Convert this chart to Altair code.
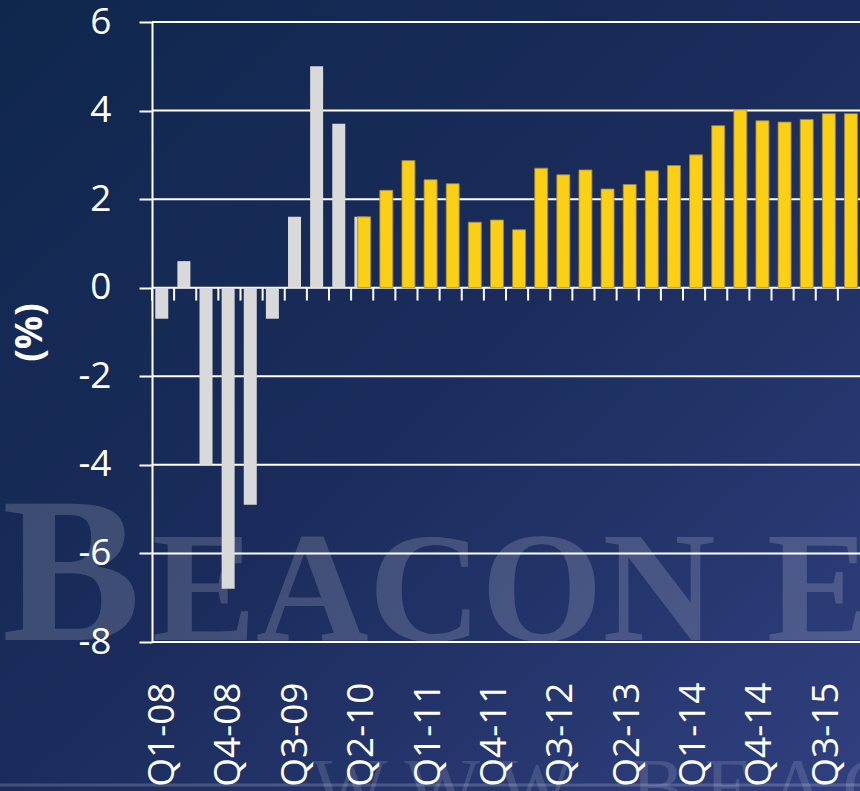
import altair as alt
import pandas as pd

# Quarterly growth, % (actuals followed by the forecast path)
quarters = [
    "Q1-08", "Q2-08", "Q3-08", "Q4-08",
    "Q1-09", "Q2-09", "Q3-09", "Q4-09",
    "Q1-10", "Q2-10", "Q3-10", "Q4-10",
    "Q1-11", "Q2-11", "Q3-11", "Q4-11",
    "Q1-12", "Q2-12", "Q3-12", "Q4-12",
    "Q1-13", "Q2-13", "Q3-13", "Q4-13",
    "Q1-14", "Q2-14", "Q3-14", "Q4-14",
    "Q1-15", "Q2-15", "Q3-15", "Q4-15",
]
actual_values = [-0.7, 0.6, -4.0, -6.8, -4.9, -0.7, 1.6, 5.0, 3.7, 1.6]
forecast_values = [
    1.6, 2.2, 2.87, 2.44, 2.35, 1.48, 1.53, 1.31,
    2.7, 2.55, 2.66, 2.23, 2.33, 2.64, 2.76, 3.0,
    3.66, 4.02, 3.77, 3.74, 3.8, 3.93, 3.93,
]
x_labels = ["Q1-08", "Q4-08", "Q3-09", "Q2-10", "Q1-11", "Q4-11",
            "Q3-12", "Q2-13", "Q1-14", "Q4-14", "Q3-15"]
y_ticks = [-8, -6, -4, -2, 0, 2, 4, 6]

n_act = len(actual_values)
actual = pd.DataFrame({"quarter": quarters[:n_act], "value": actual_values})
forecast = pd.DataFrame({"quarter": quarters[n_act - 1:], "value": forecast_values})
cats = pd.DataFrame({"quarter": quarters})
grid = pd.DataFrame({"v": y_ticks})

W, H = 708, 620
PL, PT, PR, PB = 152, 22, 0, 149
FONT = "Open Sans"
SERIF = "Liberation Serif"

x_scale = alt.Scale(domain=quarters, paddingInner=0, paddingOuter=0)
y_scale = alt.Scale(domain=[-8, 6], nice=False, zero=False)

x_axis = alt.Axis(
    values=x_labels, labelAngle=-90, labelPadding=40, labelFontSize=37,
    labelFont=FONT, labelColor="white", domain=False, ticks=False,
    grid=False, labelOverlap=False, title=None, zindex=1,
)
y_axis = alt.Axis(
    values=y_ticks, labelExpr="'' + datum.value",
    labelFontSize=37, labelFont=FONT, labelColor="white",
    labelPadding=28, domain=True, domainColor="white", domainWidth=2,
    ticks=True, tickColor="white", tickWidth=2, tickSize=13, grid=False,
    title="(%)", titleFont=FONT, titleFontSize=37, titleFontWeight="bold",
    titleColor="white", titlePadding=28, zindex=1,
)

def xq(**kw):
    return alt.X("quarter:N", sort=quarters, scale=x_scale, axis=x_axis, **kw)

def yv(field):
    return alt.Y(field, scale=y_scale, axis=y_axis)

one = alt.Data(values=[{}])

# slide-style backdrop
bg = alt.Chart(one).mark_rect(
    fill=alt.Gradient(
        gradient="linear", x1=0, y1=0, x2=1, y2=1,
        stops=[
            alt.GradientStop(color="#0f274d", offset=0),
            alt.GradientStop(color="#1b2c5c", offset=0.5),
            alt.GradientStop(color="#30407f", offset=1),
        ],
    )
).encode(x=alt.value(-PL), x2=alt.value(W + PR), y=alt.value(-PT), y2=alt.value(H + PB))

WM = dict(font=SERIF, fontWeight="bold", align="left", baseline="alphabetic",
          color="white", opacity=0.16)

mark_b = alt.Chart(one).mark_text(text="B", fontSize=208, **WM).encode(
    x=alt.value(-150), y=alt.value(618))
mark_eacon = alt.Chart(one).mark_text(text="EACON", fontSize=156, **WM).encode(
    x=alt.value(0), y=alt.value(618))
mark_econ = alt.Chart(one).mark_text(text="ECONOMICS", fontSize=156, **WM).encode(
    x=alt.value(615), y=alt.value(618))

mark_url = alt.Chart(one).mark_text(
    text="W W W . B E A C O N E C O N . C O M", font=SERIF, fontSize=80,
    align="left", baseline="alphabetic", color="white", opacity=0.13,
).encode(x=alt.value(160), y=alt.value(792))

base_line = alt.Chart(one).mark_rule(color="white", opacity=0.18, strokeWidth=3).encode(
    x=alt.value(-PL), x2=alt.value(W + PR), y=alt.value(H + PB - 6)
)

gridlines = alt.Chart(grid).mark_rule(color="white", strokeWidth=2).encode(y=yv("v:Q"))

bars_actual = alt.Chart(actual).mark_bar(
    width=13, xOffset=-1.3, color="#d9d9d9"
).encode(x=xq(), y=yv("value:Q"))

bars_forecast = alt.Chart(forecast).mark_bar(
    width=13, xOffset=2.0, color="#fbcf14", stroke="#9a8640", strokeWidth=0.8
).encode(x=xq(), y=yv("value:Q"))

zero_ticks = alt.Chart(cats).mark_rule(color="white", strokeWidth=2).encode(
    x=xq(bandPosition=0),
    y=alt.Y(datum=0, scale=y_scale, axis=y_axis),
    y2=alt.Y2(datum=-0.29),
)

chart = alt.layer(
    bg, mark_b, mark_eacon, mark_econ, mark_url, base_line, gridlines,
    bars_actual, bars_forecast, zero_ticks,
).properties(
    width=W, height=H,
    autosize=alt.AutoSizeParams(type="none"),
    padding={"left": PL, "top": PT, "right": PR, "bottom": PB},
    background="#14294f",
).configure_view(stroke=None)

chart.save("out.html", embed_options={"renderer": "svg", "actions": False})
